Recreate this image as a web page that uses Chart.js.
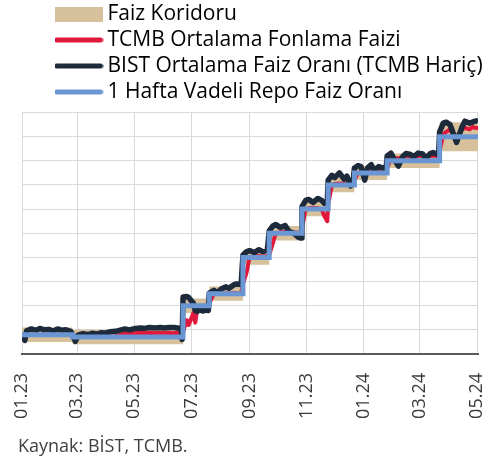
<!DOCTYPE html>
<html><head><meta charset="utf-8">
<script src="https://cdn.jsdelivr.net/npm/chart.js@4.4.1/dist/chart.umd.min.js"></script>
<style>html,body{margin:0;padding:0;background:#fff}</style>
</head><body>
<canvas id="c" width="487" height="459" style="width:487px;height:459px;display:block"></canvas>
<script>
const seriesNames = ["Faiz Koridoru", "TCMB Ortalama Fonlama Faizi", "BIST Ortalama Faiz Oranı (TCMB Hariç)", "1 Hafta Vadeli Repo Faiz Oranı"];
const sourceText = "Kaynak: BİST, TCMB.";
const tickDates = ["2023-01-01","2023-03-01","2023-05-01","2023-07-01","2023-09-01","2023-11-01","2024-01-01","2024-03-01","2024-05-01"];
const tickLabels = ["01.23","03.23","05.23","07.23","09.23","11.23","01.24","03.24","05.24"];

// Policy rate (1 week repo) and corridor, as step changes
const policyDates = ["2023-01-01","2023-02-24","2023-06-22","2023-07-20","2023-08-25","2023-09-22","2023-10-27","2023-11-24","2023-12-22","2024-01-26","2024-03-22","2024-05-02"];
const policyRate  = [9, 8.5, 15, 17.5, 25, 30, 35, 40, 42.5, 45, 50, 50];
const corridorLow  = [7.5, 7, 13.5, 16, 23.5, 28.5, 33.5, 38.5, 41, 43.5, 47, 47];
const corridorHigh = [10.5, 10, 16.5, 19, 26.5, 31.5, 36.5, 41.5, 44, 46.5, 53, 53];

// Market rates
const dates = [
"2023-01-02","2023-01-04","2023-01-06","2023-01-11","2023-01-16","2023-01-20","2023-01-25","2023-01-30","2023-02-03","2023-02-08","2023-02-13","2023-02-17","2023-02-22",
"2023-02-24","2023-02-27","2023-03-02","2023-03-07","2023-03-13","2023-03-17","2023-03-22","2023-03-27","2023-03-31","2023-04-05","2023-04-11","2023-04-17","2023-04-21","2023-04-26",
"2023-05-02","2023-05-08","2023-05-12","2023-05-17","2023-05-23","2023-05-29","2023-06-02","2023-06-07","2023-06-12","2023-06-16","2023-06-20","2023-06-21",
"2023-06-22","2023-06-26","2023-06-28","2023-07-03","2023-07-05","2023-07-07","2023-07-10","2023-07-13","2023-07-17","2023-07-19",
"2023-07-20","2023-07-25","2023-07-28","2023-08-02","2023-08-07","2023-08-10","2023-08-15","2023-08-18","2023-08-23",
"2023-08-25","2023-08-29","2023-09-01","2023-09-06","2023-09-11","2023-09-15","2023-09-20",
"2023-09-22","2023-09-26","2023-09-29","2023-10-04","2023-10-09","2023-10-13","2023-10-18","2023-10-23","2023-10-26",
"2023-10-27","2023-10-31","2023-11-03","2023-11-08","2023-11-13","2023-11-17","2023-11-20","2023-11-23",
"2023-11-24","2023-11-28","2023-12-01","2023-12-06","2023-12-11","2023-12-14","2023-12-18","2023-12-21",
"2023-12-22","2023-12-26","2023-12-29","2024-01-02","2024-01-05","2024-01-09","2024-01-12","2024-01-17","2024-01-22","2024-01-25",
"2024-01-26","2024-01-30","2024-02-02","2024-02-07","2024-02-12","2024-02-15","2024-02-20","2024-02-23","2024-02-28","2024-03-04","2024-03-07","2024-03-12","2024-03-15","2024-03-19","2024-03-21",
"2024-03-22","2024-03-26","2024-03-29","2024-04-02","2024-04-05","2024-04-09","2024-04-15","2024-04-18","2024-04-23","2024-04-26","2024-04-30","2024-05-02"
];
const bist = [
9.4,7.8,9.8,10.2,9.9,10.3,10.0,10.1,9.7,10.2,9.9,10.0,9.7,
9.0,7.6,8.9,9.2,9.0,9.3,9.1,9.4,9.3,9.6,9.7,10.0,10.2,10.0,
10.3,10.4,10.3,10.5,10.4,10.5,10.4,10.5,10.5,10.4,10.2,8.0,
16.8,16.9,16.7,15.5,14.0,13.8,14.2,13.9,14.1,14.0,
17.6,18.2,17.6,18.5,18.9,18.6,19.3,19.5,19.4,
25.5,26.2,26.4,26.0,26.6,26.2,26.5,
30.5,31.5,31.8,31.2,31.6,30.4,30.0,29.2,29.0,
35.5,36.8,37.0,36.4,37.2,36.8,36.2,36.5,
41.0,42.0,41.5,42.5,41.2,41.8,39.8,41.5,
43.5,44.0,43.8,41.0,43.5,44.2,43.0,43.8,43.5,43.8,
46.0,46.6,45.5,43.9,46.0,46.5,46.3,45.8,46.6,46.4,45.5,46.5,46.7,46.4,46.5,
51.0,52.8,53.0,52.5,51.0,48.8,52.0,53.2,52.8,53.0,53.3,53.0
];
const tcmb = [
9,9,9,9,9,9,9,9,9,9,9,9,9,
8.5,8.5,8.5,8.5,8.5,8.5,8.5,8.5,8.6,8.6,8.7,9.0,9.2,9.3,
9.3,9.4,9.3,9.4,9.3,9.4,9.3,9.4,9.3,9.4,9.3,9.2,
9.5,12.0,11.0,13.5,11.5,14.0,14.8,15.0,15.0,15.0,
15.5,17.5,17.5,17.5,17.6,17.6,17.7,17.6,17.6,
19.5,22.0,25.0,25.2,25.3,25.2,25.3,
25.5,28.0,30.0,30.2,30.3,30.1,30.2,30.1,30.0,
31.0,35.0,35.2,35.3,35.2,35.0,33.5,32.5,
36.0,40.0,40.2,40.3,40.2,40.3,40.2,40.2,
41.0,42.5,42.7,42.6,42.8,42.8,42.7,42.9,42.8,42.7,
43.5,45.5,45.6,45.5,45.8,46.0,45.9,45.7,46.0,46.1,45.8,46.0,46.1,46.0,45.9,
47.0,50.5,51.0,51.5,50.5,50.0,51.5,51.8,51.5,52.0,51.8,51.8
];

const colors = {corridor:"#d7c19c", tcmb:"#e1173b", bist:"#1c2a3b", repo:"#6a97d4"};

function dayIndex(s){
  const p = s.split("-").map(Number);
  return (Date.UTC(p[0], p[1]-1, p[2]) - Date.UTC(2023,0,1)) / 86400000;
}
const xy = (ds, vs) => ds.map((d,i) => ({x: dayIndex(d), y: vs[i]}));

// legend markers
function rectMarker(color){
  const c = document.createElement('canvas'); c.width = 48; c.height = 15;
  const g = c.getContext('2d'); g.fillStyle = color; g.fillRect(0,0,48,15); return c;
}
function lineMarker(color){
  const c = document.createElement('canvas'); c.width = 50; c.height = 6;
  const g = c.getContext('2d'); g.strokeStyle = color; g.lineWidth = 5; g.lineCap = 'round';
  g.beginPath(); g.moveTo(3,3); g.lineTo(47,3); g.stroke(); return c;
}

const legendShift = {
  id: 'legendShift',
  afterLayout(chart){ if (chart.legend){ chart.legend.left += 37; chart.legend.right += 37; } }
};

new Chart(document.getElementById('c'), {
  type: 'line',
  data: {
    datasets: [
      {label: 'low', data: xy(policyDates, corridorLow), stepped: true, borderColor: 'rgba(0,0,0,0)', borderWidth: 1, pointRadius: 0, fill: false, order: 10},
      {label: seriesNames[0], data: xy(policyDates, corridorHigh), stepped: true, borderColor: 'rgba(0,0,0,0)', borderWidth: 1, backgroundColor: colors.corridor, pointRadius: 0, fill: '-1', order: 9},
      {label: seriesNames[1], data: xy(dates, tcmb), borderColor: colors.tcmb, borderWidth: 4, pointRadius: 0, tension: 0, fill: false, order: 3, borderJoinStyle: 'round'},
      {label: seriesNames[2], data: xy(dates, bist), borderColor: colors.bist, borderWidth: 5.5, pointRadius: 0, tension: 0, fill: false, order: 2, borderJoinStyle: 'round'},
      {label: seriesNames[3], data: xy(policyDates, policyRate), stepped: true, borderColor: colors.repo, borderWidth: 5, pointRadius: 0, fill: false, order: 1}
    ]
  },
  options: {
    responsive: false,
    animation: false,
    devicePixelRatio: 1,
    layout: {padding: {left: 18, right: 9, top: -1.5, bottom: 0}},
    plugins: {
      tooltip: {enabled: false},
      legend: {
        display: true,
        position: 'top',
        align: 'start',
        labels: {
          font: {family: "'Open Sans'", size: 21},
          color: '#1e1e1e',
          padding: 5,
          usePointStyle: true,
          pointStyleWidth: 37,
          boxHeight: 15,
          generateLabels(chart){
            return [
              {text: seriesNames[0], fillStyle: colors.corridor, strokeStyle: colors.corridor, lineWidth: 0, pointStyle: rectMarker(colors.corridor), datasetIndex: 1, hidden: false},
              {text: seriesNames[1], fillStyle: colors.tcmb, strokeStyle: colors.tcmb, lineWidth: 0, pointStyle: lineMarker(colors.tcmb), datasetIndex: 2, hidden: false},
              {text: seriesNames[2], fillStyle: colors.bist, strokeStyle: colors.bist, lineWidth: 0, pointStyle: lineMarker(colors.bist), datasetIndex: 3, hidden: false},
              {text: seriesNames[3], fillStyle: colors.repo, strokeStyle: colors.repo, lineWidth: 0, pointStyle: lineMarker(colors.repo), datasetIndex: 4, hidden: false}
            ];
          }
        }
      },
      title: {
        display: true,
        text: sourceText,
        position: 'bottom',
        align: 'start',
        color: '#404040',
        font: {family: "'Open Sans'", size: 18, weight: 'normal', lineHeight: 1},
        padding: {top: 12, bottom: 3}
      }
    },
    scales: {
      x: {
        type: 'linear',
        min: dayIndex(tickDates[0]),
        max: dayIndex("2024-05-02"),
        afterBuildTicks(scale){ scale.ticks = tickDates.map(d => ({value: dayIndex(d)})); },
        afterFit(scale){ scale.paddingLeft = 0; scale.paddingRight = 0; scale.height = 72; },
        ticks: {
          autoSkip: false,
          minRotation: 90,
          maxRotation: 90,
          padding: 19,
          color: '#3a3a3a',
          font: {family: "'Open Sans'", size: 18},
          callback: (v, i) => tickLabels[i]
        },
        grid: {color: '#d9d9d9', lineWidth: 1, drawTicks: false},
        border: {display: true, color: '#595959', width: 2}
      },
      y: {
        min: 5, max: 55,
        ticks: {display: false, stepSize: 5},
        afterFit(scale){ scale.width = 4; },
        grid: {color: '#d9d9d9', lineWidth: 1, drawTicks: false},
        border: {display: false}
      }
    }
  },
  plugins: [legendShift]
});
</script>
</body></html>
